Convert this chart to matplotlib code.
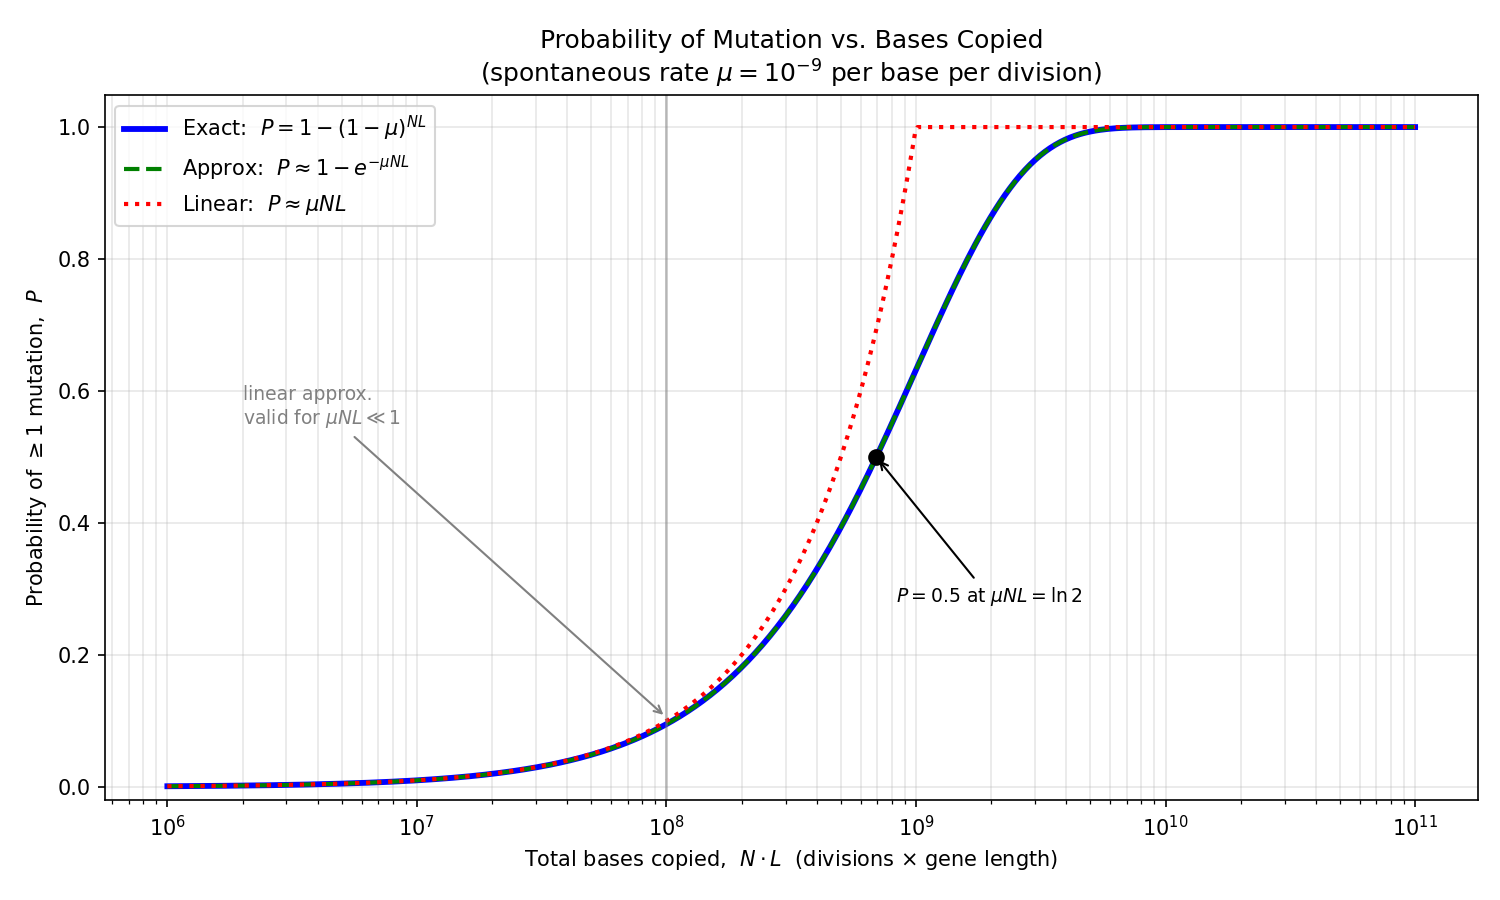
import numpy as np
import matplotlib
matplotlib.use("Agg")
from matplotlib import pyplot as plt

# --------------------- 参数 ---------------------
mu = 1e-9                      # spontaneous rate per base per division
nl_min, nl_max = 1e6, 1e11     # x range (total bases copied)
n_pts = 500
vline_x = 1e8                  # reference line
note_lin_xy = (1e8, 0.105)
note_lin_text = (2e6, 0.55)
note_half_text = (8.3e8, 0.28)

NL = np.logspace(np.log10(nl_min), np.log10(nl_max), n_pts)
P_exact = 1 - np.exp(NL * np.log1p(-mu))
P_approx = 1 - np.exp(-mu * NL)
P_lin = np.minimum(mu * NL, 1.0)
NL_half = np.log(2) / mu

fig, ax = plt.subplots(figsize=(10, 6), dpi=150)
ax.plot(NL, P_exact, color="blue", lw=2.8, label=r"Exact:  $P = 1-(1-\mu)^{NL}$")
ax.plot(NL, P_approx, color="green", lw=2, ls="--", label=r"Approx:  $P \approx 1-e^{-\mu NL}$")
ax.plot(NL, P_lin, color="red", lw=2, ls=":", label=r"Linear:  $P \approx \mu NL$")
ax.axvline(vline_x, color="gray", lw=1.2, alpha=0.5)
ax.plot([NL_half], [0.5], "ko", ms=7, zorder=5)

ax.annotate(r"$P = 0.5$ at $\mu NL = \ln 2$", xy=(NL_half, 0.5), xytext=note_half_text,
            fontsize=9, arrowprops=dict(arrowstyle="->", color="black"))
ax.annotate("linear approx.\nvalid for $\\mu NL \\ll 1$", xy=note_lin_xy, xytext=note_lin_text,
            fontsize=9, color="gray", arrowprops=dict(arrowstyle="->", color="gray"))

ax.set_xscale("log")
ax.set_ylim(-0.02, 1.048)
ax.grid(True, which="both", alpha=0.3)
ax.set_xlabel(r"Total bases copied,  $N \cdot L$  (divisions $\times$ gene length)")
ax.set_ylabel(r"Probability of $\geq 1$ mutation,  $P$")
ax.set_title("Probability of Mutation vs. Bases Copied\n"
             r"(spontaneous rate $\mu = 10^{-9}$ per base per division)", fontsize=12)
ax.legend(loc="upper left", fontsize=10)

fig.subplots_adjust(left=0.07, right=0.985, top=0.894, bottom=0.111)
plt.savefig("out.png")
